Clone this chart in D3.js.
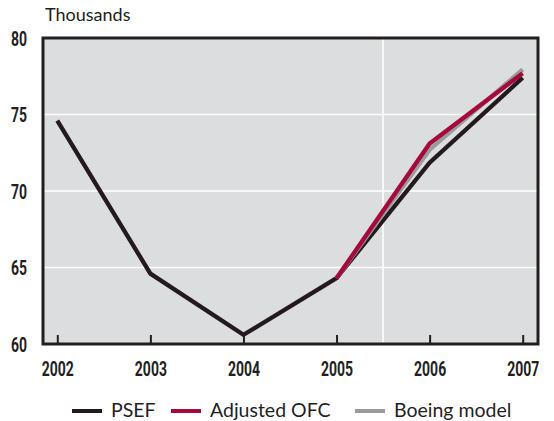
<!DOCTYPE html>
<html><head><meta charset="utf-8">
<script src="https://cdn.jsdelivr.net/npm/d3@7"></script>
<style>
html,body{margin:0;padding:0;background:#fff;}
svg{display:block;}
</style></head>
<body>
<svg id="chart" width="554" height="421"></svg>
<script>
const years = [2002, 2003, 2004, 2005, 2006, 2007];
const psef = [74.6, 64.6, 60.6, 64.3, 71.85, 77.4];
const adjYears = [2005, 2006, 2007];
const adjustedOFC = [64.3, 73.1, 77.7];
const boeingModel = [64.3, 72.7, 77.95];
const yTicks = [60, 65, 70, 75, 80];
const seriesNames = ["PSEF", "Adjusted OFC", "Boeing model"];
const seriesColors = ["#231a1e", "#a50a3a", "#9b9b9e"];

const svg = d3.select("#chart");
const L = 43, R = 538, T = 38, B = 344;
const x = d3.scaleLinear().domain([2002, 2007]).range([57.3, 522.7]);
const y = d3.scaleLinear().domain([60, 80]).range([B, T]);
const SX = 0.7;
const numFont = "Roboto, 'DejaVu Sans', sans-serif";

svg.append("rect").attr("x", L).attr("y", T).attr("width", R - L).attr("height", B - T).attr("fill", "#dcdddf");

// grid
svg.append("g").selectAll("line").data(yTicks.filter(d => d > 60 && d < 80)).join("line")
  .attr("x1", L).attr("x2", R).attr("y1", d => y(d)).attr("y2", d => y(d))
  .attr("stroke", "#fff").attr("stroke-width", 1.5);
svg.append("line").attr("x1", x(2005.5)).attr("x2", x(2005.5)).attr("y1", T).attr("y2", B)
  .attr("stroke", "#fff").attr("stroke-width", 1.5);

// x axis ticks (inside)
const xAxis = d3.axisBottom(x).tickValues(years).tickFormat(d3.format("d")).tickSize(0).tickPadding(0);
const gx = svg.append("g").attr("transform", `translate(0,${B})`).call(xAxis);
gx.select(".domain").remove();
gx.selectAll(".tick text").remove();
gx.selectAll(".tick").append("line").attr("y1", 0).attr("y2", -9).attr("stroke", "#231f20").attr("stroke-width", 2);
gx.selectAll(".tick").append("text").text(d => d)
  .attr("y", 32).attr("text-anchor", "middle").attr("transform", `scale(${SX},1)`)
  .attr("font-family", numFont)
  .attr("font-weight", "bold").attr("font-size", 20).attr("fill", "#231f20");

// y axis labels
const yAxis = d3.axisLeft(y).tickValues(yTicks).tickSize(0).tickPadding(0);
const gy = svg.append("g").attr("transform", `translate(${L},0)`).call(yAxis);
gy.select(".domain").remove();
gy.selectAll(".tick text").remove();
gy.selectAll(".tick").append("text").text(d => d)
  .attr("x", -16 / SX).attr("y", 7).attr("text-anchor", "end").attr("transform", `scale(${SX},1)`)
  .attr("font-family", numFont)
  .attr("font-weight", "bold").attr("font-size", 20).attr("fill", "#231f20");

// lines
const line = d3.line().x(d => x(d[0])).y(d => y(d[1]));
const series = [
  years.map((yr, i) => [yr, psef[i]]),
  adjYears.map((yr, i) => [yr, boeingModel[i]]),
  adjYears.map((yr, i) => [yr, adjustedOFC[i]])
];
const drawColors = [seriesColors[0], seriesColors[2], seriesColors[1]];
svg.append("g").selectAll("path").data(series).join("path")
  .attr("d", line).attr("fill", "none")
  .attr("stroke", (d, i) => drawColors[i]).attr("stroke-width", 4.3)
  .attr("stroke-linejoin", "miter").attr("stroke-linecap", "butt");

// frame
svg.append("rect").attr("x", L).attr("y", T).attr("width", R - L).attr("height", B - T)
  .attr("fill", "none").attr("stroke", "#231f20").attr("stroke-width", 3);

// title
svg.append("text").text("Thousands").attr("x", 45).attr("y", 21)
  .attr("font-family", "Lato, sans-serif").attr("font-size", 18).attr("fill", "#231f20");

// legend
const legendX = [72, 171, 355];
const lg = svg.append("g").selectAll("g").data(seriesNames).join("g")
  .attr("transform", (d, i) => `translate(${legendX[i]},411)`);
lg.append("line").attr("x1", 0).attr("x2", 30).attr("y1", 0).attr("y2", 0)
  .attr("stroke", (d, i) => seriesColors[i]).attr("stroke-width", 4);
lg.append("text").text(d => d).attr("x", 39).attr("y", 5.5)
  .attr("font-family", "Lato, sans-serif").attr("font-size", 19.5).attr("fill", "#231f20");
</script>
</body></html>
